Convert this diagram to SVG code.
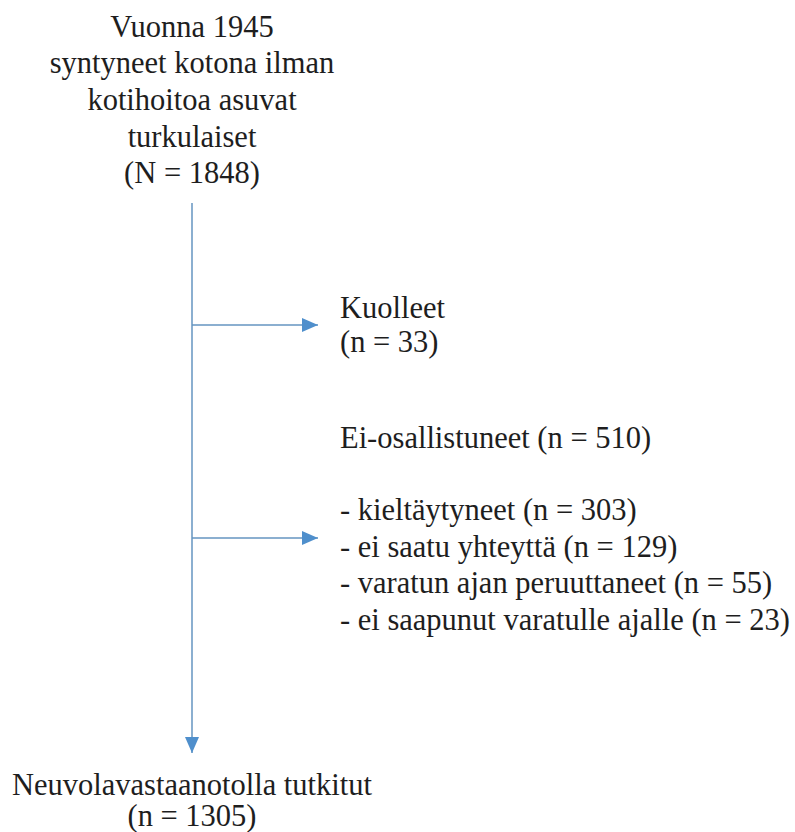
<svg xmlns="http://www.w3.org/2000/svg" width="795" height="832" viewBox="0 0 795 832">
<defs>
<style>
.t{font-family:'Liberation Serif','Times New Roman',serif;font-size:30.5px;fill:#1e1e1e}
.c{text-anchor:middle}
.ln{stroke:#6594c0;stroke-width:1.5;fill:none}
</style>
<marker id="ah" viewBox="0 0 16 14" refX="16" refY="7" markerWidth="16" markerHeight="14" markerUnits="userSpaceOnUse" orient="auto">
<path d="M0,0 L16,7 L0,14 Z" fill="#4f8fcc"/>
</marker>
</defs>
<rect width="795" height="832" fill="#fff"/>
<g id="start" class="t">
<text class="c" x="192" y="37">Vuonna 1945</text>
<text class="c" x="192" y="73">syntyneet kotona ilman</text>
<text class="c" x="192" y="110">kotihoitoa asuvat</text>
<text class="c" x="192" y="147">turkulaiset</text>
<text class="c" x="192" y="183">(N = 1848)</text>
</g>
<g id="deceased" class="t">
<text x="340" y="318">Kuolleet</text>
<text x="340" y="352">(n = 33)</text>
</g>
<g id="nonparticipants" class="t">
<text x="340" y="448">Ei-osallistuneet (n = 510)</text>
<text x="340" y="520">- kieltäytyneet (n = 303)</text>
<text x="340" y="557">- ei saatu yhteyttä (n = 129)</text>
<text x="340" y="593">- varatun ajan peruuttaneet (n = 55)</text>
<text x="340" y="630">- ei saapunut varatulle ajalle (n = 23)</text>
</g>
<g id="examined" class="t">
<text class="c" x="192" y="795">Neuvolavastaanotolla tutkitut</text>
<text class="c" x="192" y="826">(n = 1305)</text>
</g>
<g id="connectors">
<line class="ln" x1="192" y1="203" x2="192" y2="753" marker-end="url(#ah)"/>
<line class="ln" x1="192" y1="325" x2="318" y2="325" marker-end="url(#ah)"/>
<line class="ln" x1="192" y1="538" x2="318" y2="538" marker-end="url(#ah)"/>
</g>
</svg>
